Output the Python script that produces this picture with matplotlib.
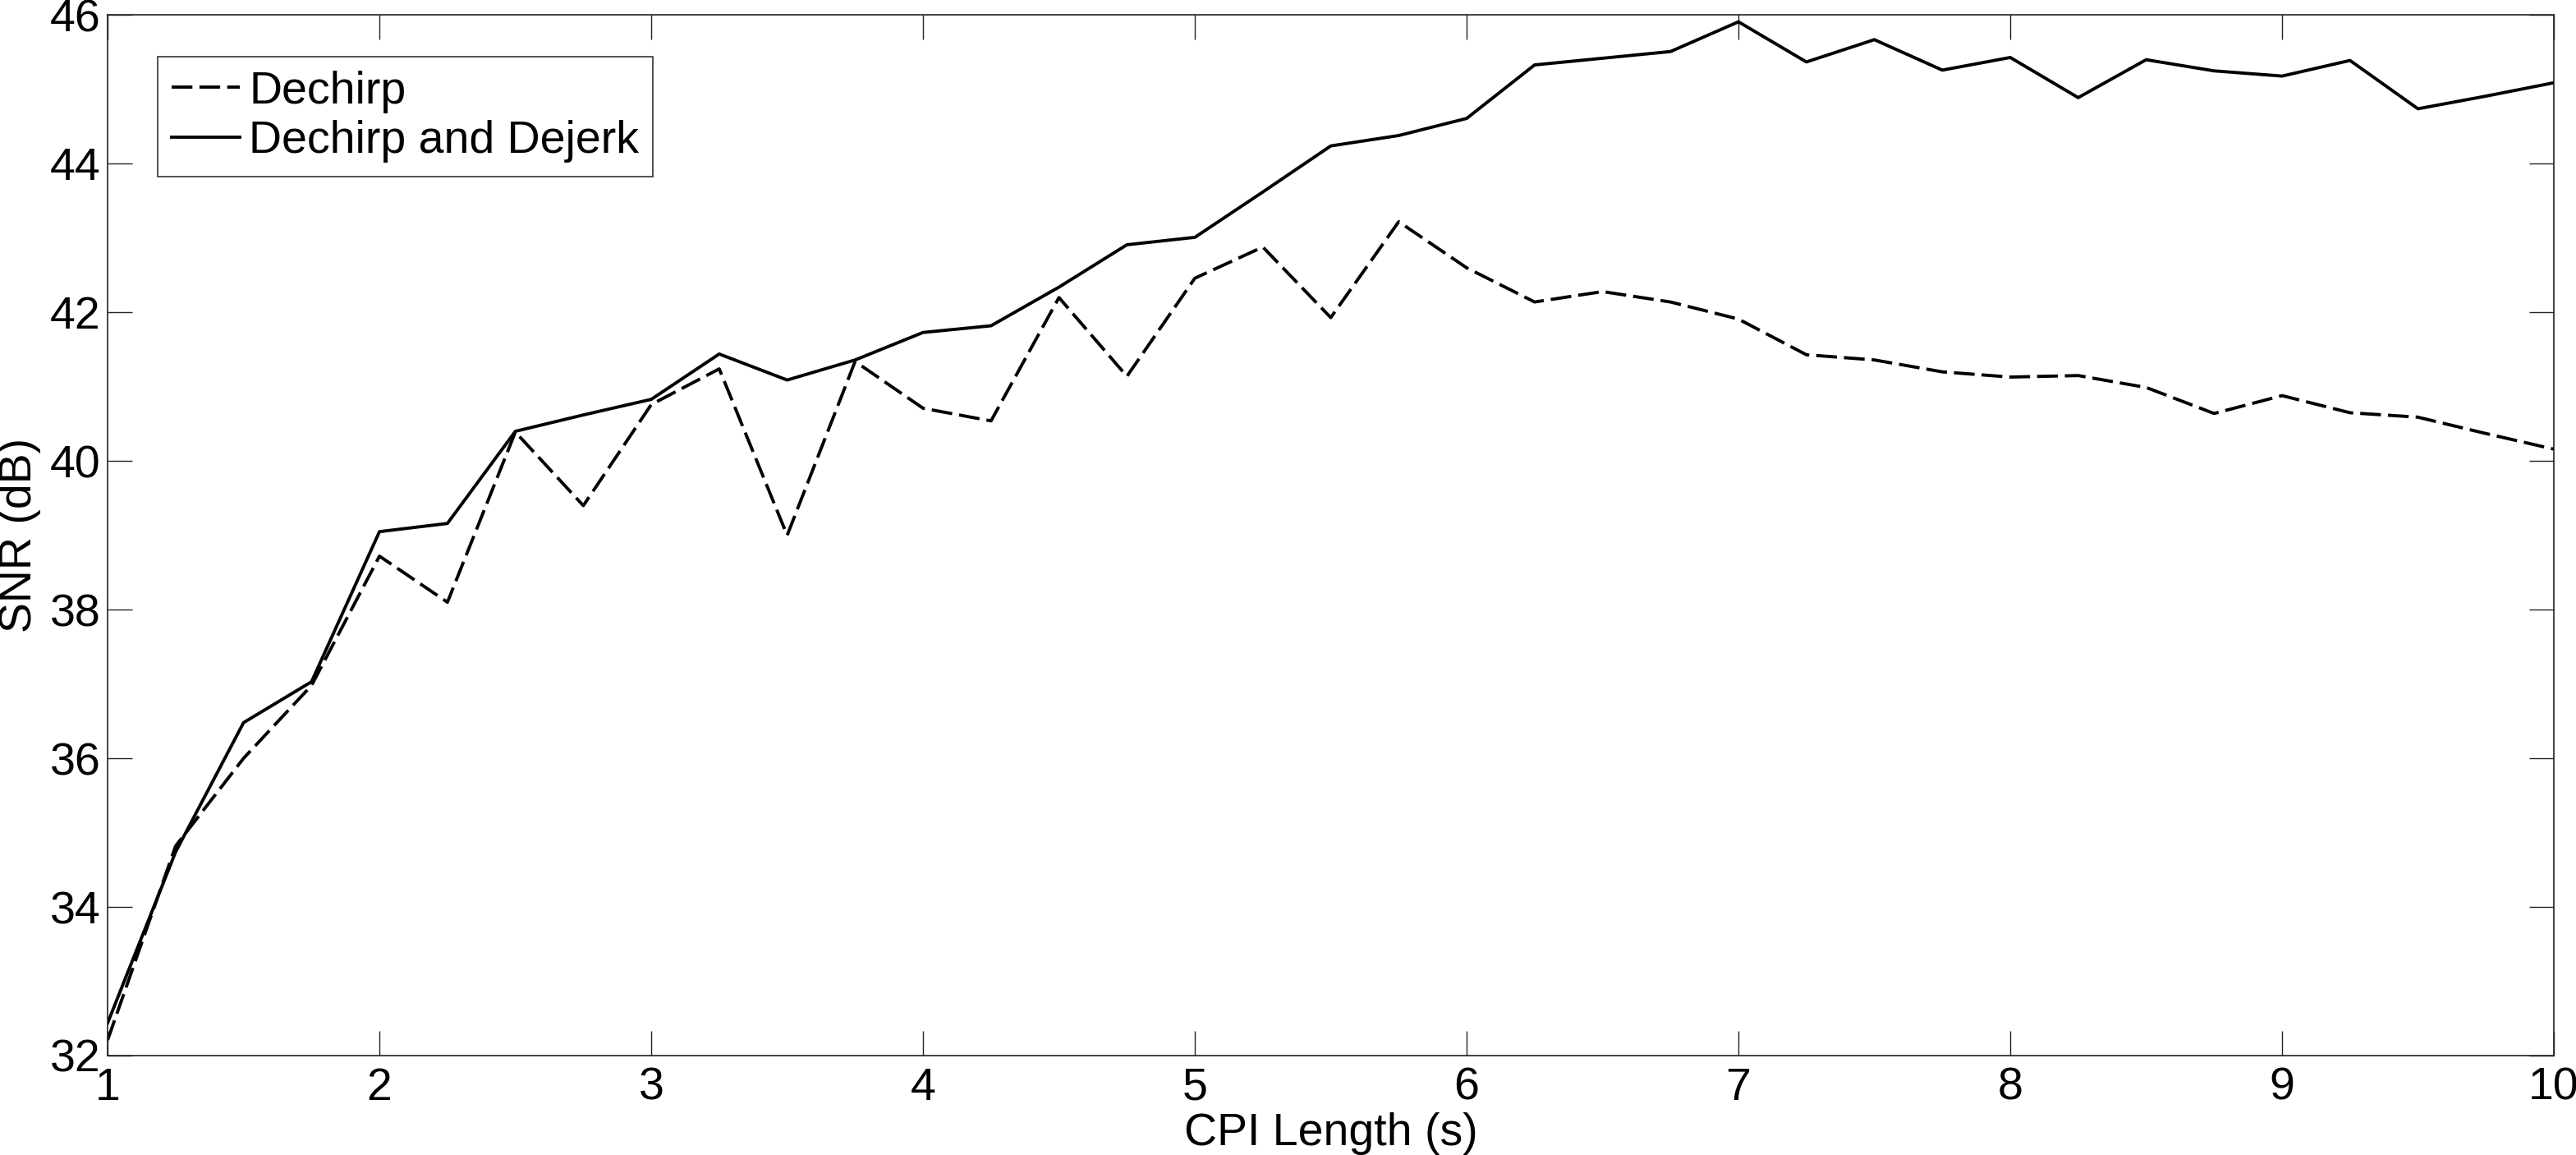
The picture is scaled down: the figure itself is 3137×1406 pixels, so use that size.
import matplotlib
matplotlib.use("Agg")
import matplotlib.pyplot as plt

plt.rcParams['font.family'] = ['Liberation Sans', 'DejaVu Sans']

cpi_length = [1.0, 1.25, 1.5, 1.75, 2.0, 2.25, 2.5, 2.75, 3.0, 3.25, 3.5, 3.75,
              4.0, 4.25, 4.5, 4.75, 5.0, 5.25, 5.5, 5.75, 6.0, 6.25, 6.5, 6.75,
              7.0, 7.25, 7.5, 7.75, 8.0, 8.25, 8.5, 8.75, 9.0, 9.25, 9.5, 9.75, 10.0]

snr_dechirp = [32.21, 34.82, 36.00, 36.98, 38.72, 38.10, 40.39, 39.40, 40.76, 41.24,
               39.00, 41.34, 40.71, 40.54, 42.20, 41.14, 42.46, 42.88, 41.93, 43.22,
               42.60, 42.14, 42.28, 42.14, 41.91, 41.43, 41.36, 41.20, 41.13, 41.15,
               40.99, 40.64, 40.88, 40.65, 40.59, 40.37, 40.16]

snr_dechirp_dejerk = [32.44, 34.74, 36.48, 37.03, 39.05, 39.16, 40.40, 40.62, 40.83, 41.44,
                      41.09, 41.36, 41.73, 41.82, 42.34, 42.91, 43.01, 43.62, 44.24, 44.38,
                      44.61, 45.33, 45.42, 45.51, 45.91, 45.37, 45.67, 45.26, 45.43, 44.89,
                      45.40, 45.25, 45.18, 45.39, 44.74, 44.91, 45.09]

labels = ["Dechirp", "Dechirp and Dejerk"]
x_ticks = [1, 2, 3, 4, 5, 6, 7, 8, 9, 10]
y_ticks = [32, 34, 36, 38, 40, 42, 44, 46]

FS = 40

fig = plt.figure(figsize=(31.37, 14.06), dpi=100)
ax = fig.add_axes([0.0418, 0.0861, 0.9496, 0.9008])

ax.plot(cpi_length, snr_dechirp, color='black', lw=2.8, linestyle=(0, (6.5, 2.2)),
        label=labels[0])
ax.plot(cpi_length, snr_dechirp_dejerk, color='black', lw=2.8, linestyle='-',
        label=labels[1])

ax.set_xlim(1, 10)
ax.set_ylim(32, 46)
ax.set_xticks(x_ticks)
ax.set_yticks(y_ticks)
ax.tick_params(direction='in', length=21.5, width=1.0, top=True, right=True,
               labelsize=FS, color='#222222')
ax.tick_params(axis='x', pad=10)
ax.tick_params(axis='y', pad=6)
for s in ax.spines.values():
    s.set_linewidth(1.2)
    s.set_color('#222222')

ax.set_xlabel("CPI Length (s)", fontsize=FS, labelpad=2)
ax.set_ylabel("SNR (dB)", fontsize=FS, labelpad=8)

leg = ax.legend(loc='upper left', bbox_to_anchor=(0.0205, 0.960), fontsize=FS,
                frameon=True, fancybox=False, edgecolor='black',
                handlelength=1.5, handletextpad=0.2, borderpad=0.3,
                labelspacing=0.15, borderaxespad=0.0)
leg.get_frame().set_linewidth(1.2)

fig.savefig("out.png", dpi=100, facecolor='white')
